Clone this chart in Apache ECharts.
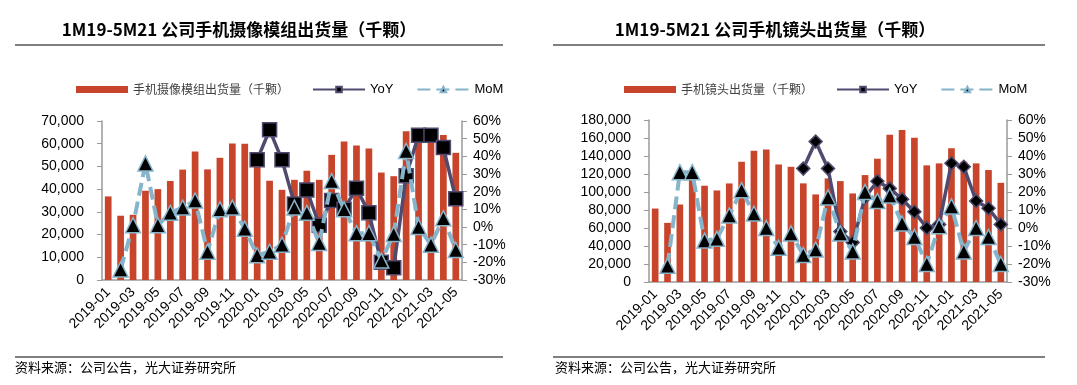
<!DOCTYPE html>
<html><head><meta charset="utf-8">
<script src="https://cdn.jsdelivr.net/npm/echarts@6/dist/echarts.min.js"></script>
<style>html,body{margin:0;padding:0;background:#fff}#c{width:1077px;height:385px}</style>
</head><body><div id="c"></div>
<script>
const categories = ['2019-01','2019-02','2019-03','2019-04','2019-05','2019-06','2019-07','2019-08','2019-09','2019-10','2019-11','2019-12','2020-01','2020-02','2020-03','2020-04','2020-05','2020-06','2020-07','2020-08','2020-09','2020-10','2020-11','2020-12','2021-01','2021-02','2021-03','2021-04','2021-05'];
const moduleShip = [36800,28300,28700,39300,40000,43600,48600,56600,48700,53800,60100,60000,52000,43700,39700,44100,48100,44100,55100,61000,59200,57900,47300,45700,65500,64500,63500,63800,56000];
const moduleYoY = [null,null,null,null,null,null,null,null,null,null,null,null,38,55,38,13,21,1,15,10,22,8,-20,-23,29,52,52,45,16];
const moduleMoM = [null,-24,1,36,1,8,11,15,-14,10,11,-1,-16,-14,-10,11,8,-9,26,10,-3.5,-3.5,-19,-4,43,0,-10,5,-13];
const lensShip = [81600,65700,86100,113900,107000,101700,109500,133600,145800,147100,130600,128000,109600,97300,115100,112100,98400,118800,137000,163700,168900,160400,129600,131800,148600,133600,131800,124400,110200];
const lensYoY = [null,null,null,null,null,null,null,null,null,null,null,null,33,48,33,-2,-8,17,26,22,16,9,0,2,36,34,15,11,2];
const lensMoM = [null,-21,31,31,-7,-6,7,21,8,0,-11,-3,-15,-12,17,-3,-13,20,15,18,2.5,-5,-20,1,12,-13,0,-5,-20];
const titles = ['1M19-5M21 公司手机摄像模组出货量（千颗）','1M19-5M21 公司手机镜头出货量（千颗）'];
const barNames = ['手机摄像模组出货量（千颗）','手机镜头出货量（千颗）'];
const sourceText = '资料来源：公司公告，光大证券研究所';

const BAR = '#c8442a', YOY = '#4f4a6e', MOM = '#86b4ca', AX = '#9a9a9a';
const numFont = 'Liberation Sans, Arial, sans-serif';
const cjk = '"Noto Sans CJK SC", sans-serif';
const fmtNum = v => v.toLocaleString('en-US');

const chart = echarts.init(document.getElementById('c'));
const grids = [{left:102, top:121, width:360, height:159},{left:649, top:120, width:358, height:162}];
const xAxes = [], yAxes = [], series = [], legends = [];
const ships = [moduleShip, lensShip], yoys = [moduleYoY, lensYoY], moms = [moduleMoM, lensMoM];
const yoySym = ['rect','diamond'], yoySize = [14, 13];
const leftMax = [70000, 180000], leftInt = [10000, 20000];
const legendLeft = [71, 619];
for (let g = 0; g < 2; g++) {
  xAxes.push({type:'category', gridIndex:g, data:categories, boundaryGap:true,
    axisLine:{lineStyle:{color:AX, width:1.5}},
    axisTick:{inside:true, length:3, lineStyle:{color:AX}},
    axisLabel:{rotate:45, interval:1, color:'#000', fontFamily:numFont, fontSize:14, margin:10}});
  yAxes.push({type:'value', gridIndex:g, min:0, max:leftMax[g], interval:leftInt[g], position:'left',
    splitLine:{show:false},
    axisLine:{show:true, lineStyle:{color:AX, width:1.5}},
    axisTick:{show:true, length:5, lineStyle:{color:AX}},
    axisLabel:{color:'#000', fontFamily:numFont, fontSize:14, margin:18, formatter:fmtNum}});
  yAxes.push({type:'value', gridIndex:g, min:-30, max:60, interval:10, position:'right',
    splitLine:{show:false},
    axisLine:{show:true, lineStyle:{color:AX, width:1.5}},
    axisTick:{show:true, length:5, lineStyle:{color:AX}},
    axisLabel:{color:'#000', fontFamily:numFont, fontSize:14, margin:11, formatter:'{value}%'}});
  series.push({name:barNames[g], type:'bar', xAxisIndex:g, yAxisIndex:2*g, data:ships[g],
    barWidth:'54%', itemStyle:{color:BAR}, z:1});
  series.push({name:'YoY', type:'line', xAxisIndex:g, yAxisIndex:2*g+1, data:yoys[g],
    symbol:yoySym[g], symbolSize:yoySize[g], showAllSymbol:true,
    lineStyle:{color:YOY, width:3.5}, itemStyle:{color:'#000', borderColor:YOY, borderWidth:1.5}, z:3});
  series.push({name:'MoM', type:'line', xAxisIndex:g, yAxisIndex:2*g+1, data:moms[g],
    symbol:'triangle', symbolSize:15, showAllSymbol:true,
    lineStyle:{color:MOM, width:4, type:[13,6]}, itemStyle:{color:'#000', borderColor:MOM, borderWidth:1.5}, z:4});
  legends.push({left:legendLeft[g], top:78, itemWidth:52, itemHeight:7, itemGap:23, selectedMode:false,
    seriesIndex:[3*g, 3*g+1, 3*g+2],
    data:[{name:barNames[g], icon:'rect', textStyle:{color:'#404040', fontSize:12, fontFamily:cjk}},
          {name:'YoY', textStyle:{color:'#000', fontSize:13, fontFamily:numFont}},
          {name:'MoM', textStyle:{color:'#000', fontSize:13, fontFamily:numFont}}]});
}
const graphic = [];
const titleX = [239, 775], lineX = [[15,503],[553,1045]], srcX = [15, 555];
for (let g = 0; g < 2; g++) {
  graphic.push({type:'text', x:titleX[g], y:30, style:{text:titles[g], textAlign:'center', textVerticalAlign:'middle', font:'bold 17px "Noto Sans CJK SC", sans-serif', fill:'#000'}});
  graphic.push({type:'line', shape:{x1:lineX[g][0], y1:45, x2:lineX[g][1], y2:45}, style:{stroke:'#000', lineWidth:1}});
  graphic.push({type:'line', shape:{x1:lineX[g][0], y1:357, x2:lineX[g][1], y2:357}, style:{stroke:'#000', lineWidth:1}});
  graphic.push({type:'text', x:srcX[g], y:367, style:{text:sourceText, textAlign:'left', textVerticalAlign:'middle', font:'13px "Noto Sans CJK SC", sans-serif', fill:'#000'}});
}
chart.setOption({animation:false, grid:grids, xAxis:xAxes, yAxis:yAxes, series, legend:legends, graphic});
</script></body></html>
